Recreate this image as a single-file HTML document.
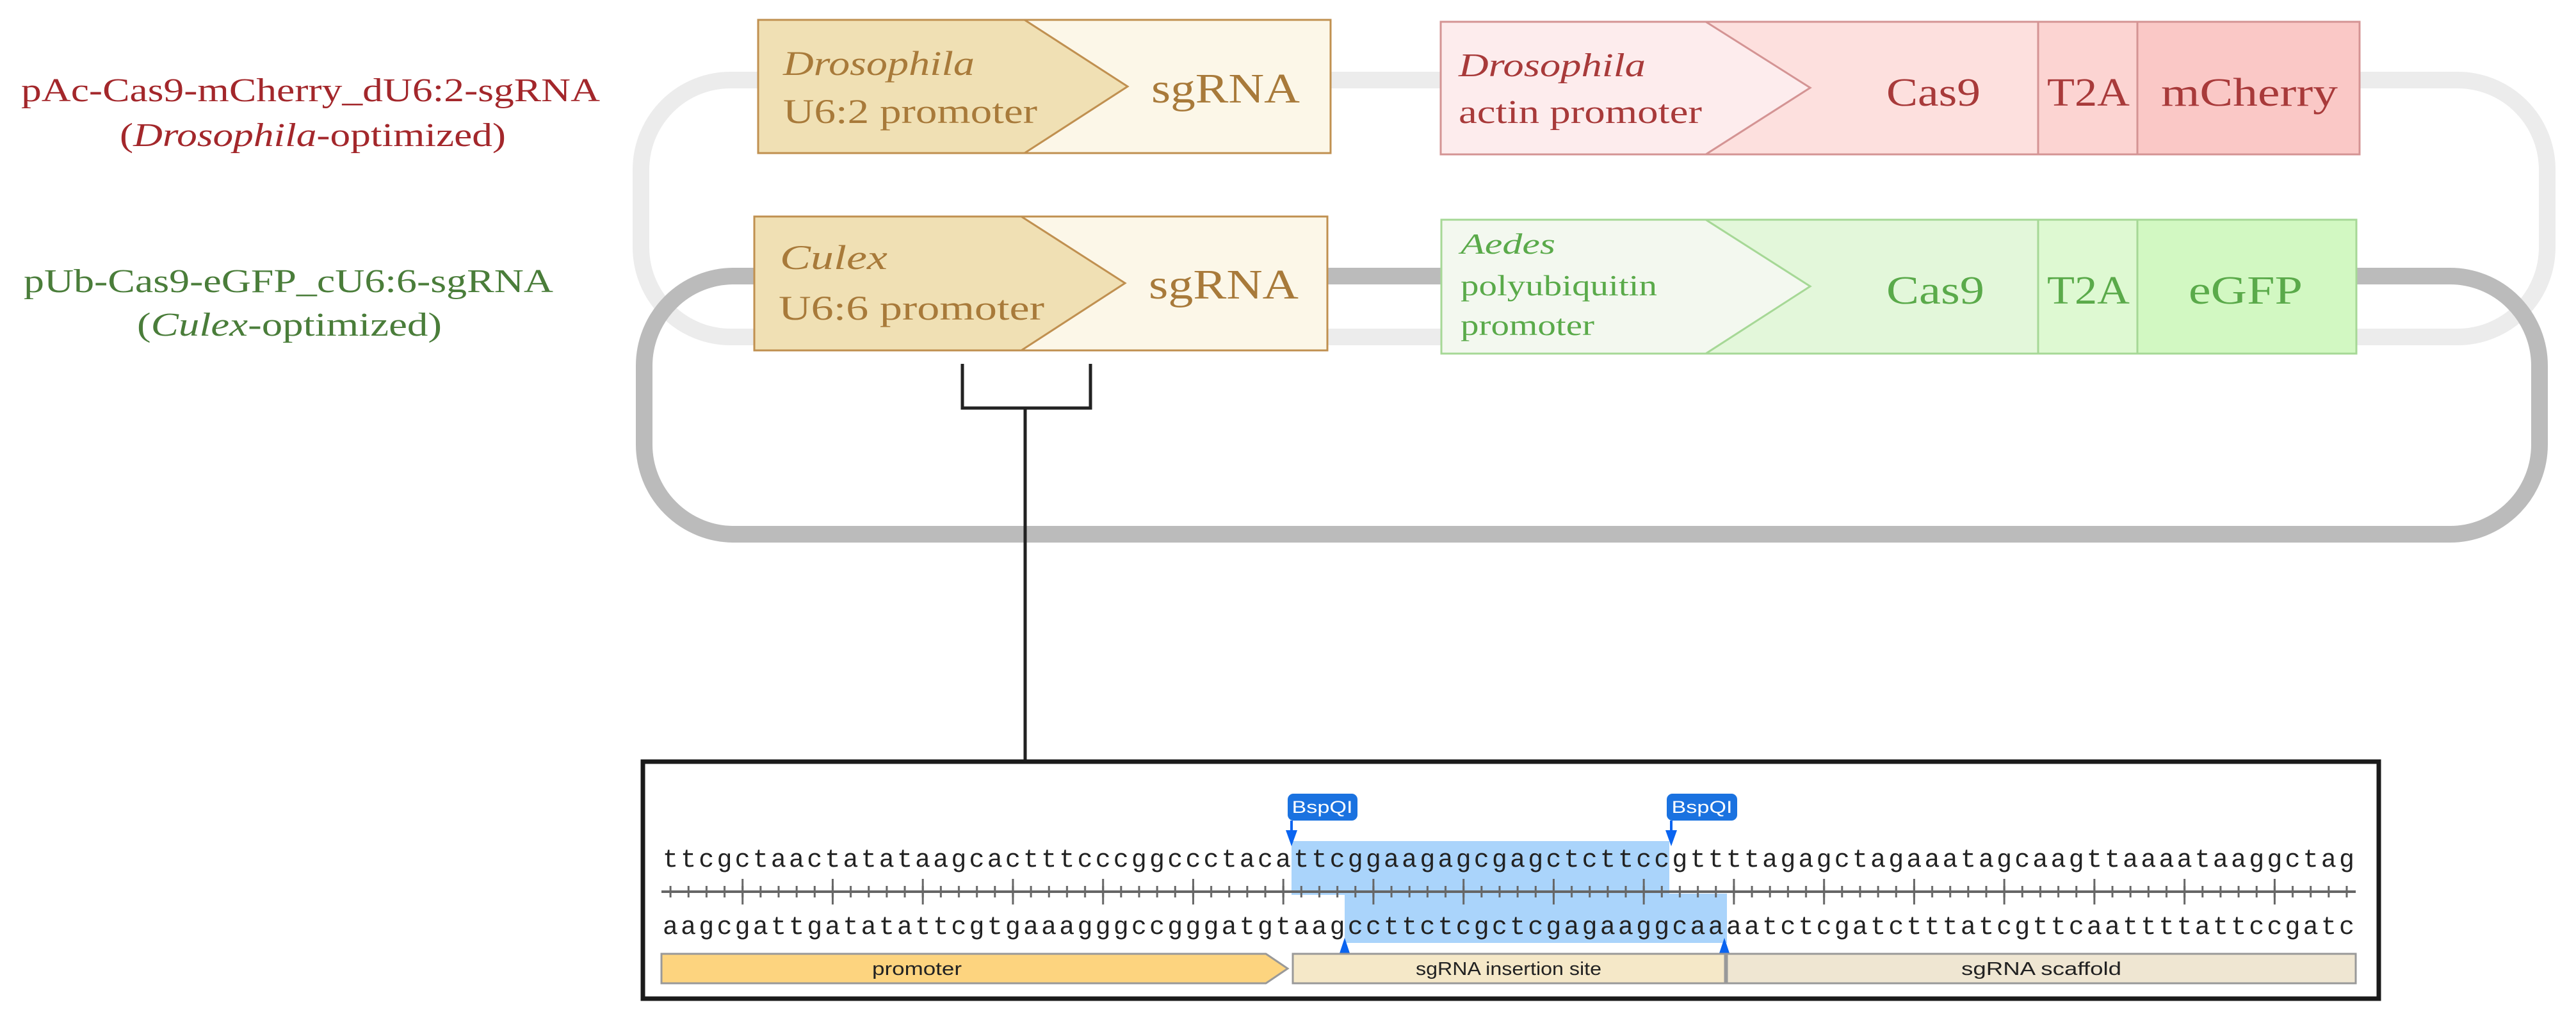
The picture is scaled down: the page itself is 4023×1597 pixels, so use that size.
<!DOCTYPE html>
<html><head><meta charset="utf-8"><style>html,body{margin:0;padding:0;background:#fff}svg{display:block}</style></head>
<body>
<svg width="4023" height="1597" viewBox="0 0 4023 1597" xmlns="http://www.w3.org/2000/svg">
<defs>
<pattern id="ts" patternUnits="userSpaceOnUse" x="1033" y="1383" width="28.149" height="18"><rect x="12.6" y="0" width="3" height="18" fill="#666"/></pattern>
<pattern id="tl" patternUnits="userSpaceOnUse" x="1033" y="1372" width="140.745" height="40"><rect x="125.2" y="0" width="3" height="40" fill="#666"/></pattern>
</defs>
<rect width="4023" height="1597" fill="#fff"/>
<!-- loops -->
<rect x="1001" y="125" width="2977" height="401" rx="140" fill="none" stroke="#ececec" stroke-width="26"/>
<rect x="1006" y="431" width="2960" height="403" rx="140" fill="none" stroke="#bbbbbb" stroke-width="26"/>

<!-- left labels -->
<g font-family="Liberation Serif, serif" font-size="52">
<text x="33" y="158" fill="#a3272b" textLength="904" lengthAdjust="spacingAndGlyphs">pAc-Cas9-mCherry_dU6:2-sgRNA</text>
<text x="187" y="228" fill="#a3272b" textLength="603" lengthAdjust="spacingAndGlyphs">(<tspan font-style="italic">Drosophila</tspan>-optimized)</text>
<text x="37" y="456" fill="#4a7d3a" textLength="827" lengthAdjust="spacingAndGlyphs">pUb-Cas9-eGFP_cU6:6-sgRNA</text>
<text x="214" y="524" fill="#4a7d3a" textLength="476" lengthAdjust="spacingAndGlyphs">(<tspan font-style="italic">Culex</tspan>-optimized)</text>
</g>

<!-- U6:2 box -->
<g font-family="Liberation Serif, serif" fill="#a87a3a">
<rect x="1184" y="31" width="894" height="208" fill="#fcf7e8" stroke="#c09050" stroke-width="3"/>
<polygon points="1184,31 1600,31 1761,135 1600,239 1184,239" fill="#f0e0b4" stroke="#c09050" stroke-width="3"/>
<text x="1223" y="117" font-size="54" font-style="italic" textLength="299" lengthAdjust="spacingAndGlyphs">Drosophila</text>
<text x="1223" y="192" font-size="54" textLength="397" lengthAdjust="spacingAndGlyphs">U6:2 promoter</text>
<text x="1798" y="160" font-size="66" textLength="232" lengthAdjust="spacingAndGlyphs">sgRNA</text>
<!-- U6:6 box -->
<rect x="1178" y="338" width="895" height="209" fill="#fcf7e8" stroke="#c09050" stroke-width="3"/>
<polygon points="1178,338 1595,338 1757,442 1595,547 1178,547" fill="#f0e0b4" stroke="#c09050" stroke-width="3"/>
<text x="1218" y="420" font-size="54" font-style="italic" textLength="168" lengthAdjust="spacingAndGlyphs">Culex</text>
<text x="1216" y="499" font-size="54" textLength="415" lengthAdjust="spacingAndGlyphs">U6:6 promoter</text>
<text x="1794" y="466" font-size="66" textLength="234" lengthAdjust="spacingAndGlyphs">sgRNA</text>
</g>

<!-- actin box -->
<g font-family="Liberation Serif, serif" fill="#a83a3a">
<rect x="2250" y="34" width="1435" height="207" fill="#fde0de" stroke="#d49494" stroke-width="3"/>
<rect x="3183" y="34" width="155" height="207" fill="#fcd4d2" stroke="#d49494" stroke-width="3"/>
<rect x="3338" y="34" width="347" height="207" fill="#fac8c6" stroke="#d49494" stroke-width="3"/>
<polygon points="2250,34 2664,34 2827,137 2664,241 2250,241" fill="#fdeced" stroke="#d49494" stroke-width="3"/>
<text x="2278" y="119" font-size="52" font-style="italic" textLength="292" lengthAdjust="spacingAndGlyphs">Drosophila</text>
<text x="2278" y="192" font-size="52" textLength="380" lengthAdjust="spacingAndGlyphs">actin promoter</text>
<text x="2946" y="165" font-size="62" textLength="147" lengthAdjust="spacingAndGlyphs">Cas9</text>
<text x="3197" y="165" font-size="62" textLength="129" lengthAdjust="spacingAndGlyphs">T2A</text>
<text x="3375" y="165" font-size="62" textLength="276" lengthAdjust="spacingAndGlyphs">mCherry</text>
</g>

<!-- polyubiquitin box -->
<g font-family="Liberation Serif, serif" fill="#5aaa4a">
<rect x="2251" y="343" width="1429" height="209" fill="#e3f7da" stroke="#a6d896" stroke-width="3"/>
<rect x="3183" y="343" width="155" height="209" fill="#def9d2" stroke="#a6d896" stroke-width="3"/>
<rect x="3338" y="343" width="342" height="209" fill="#d2f8c2" stroke="#a6d896" stroke-width="3"/>
<polygon points="2251,343 2664,343 2827,447 2664,552 2251,552" fill="#f3f8ef" stroke="#a6d896" stroke-width="3"/>
<text x="2281" y="396" font-size="46" font-style="italic" textLength="148" lengthAdjust="spacingAndGlyphs">Aedes</text>
<text x="2281" y="461" font-size="46" textLength="307" lengthAdjust="spacingAndGlyphs">polyubiquitin</text>
<text x="2281" y="523" font-size="46" textLength="209" lengthAdjust="spacingAndGlyphs">promoter</text>
<text x="2946" y="474" font-size="62" textLength="153" lengthAdjust="spacingAndGlyphs">Cas9</text>
<text x="3197" y="474" font-size="62" textLength="129" lengthAdjust="spacingAndGlyphs">T2A</text>
<text x="3418" y="474" font-size="62" textLength="178" lengthAdjust="spacingAndGlyphs">eGFP</text>
</g>

<!-- bracket -->
<path d="M1503,568 V637 H1703 V568 M1601,637 V1188" fill="none" stroke="#222" stroke-width="5"/>

<!-- sequence box -->
<rect x="1004" y="1189" width="2711" height="370" fill="#fff" stroke="#1a1a1a" stroke-width="7"/>
<rect x="2017" y="1313" width="590" height="84" fill="#aad4fb"/>
<rect x="2100" y="1395" width="597" height="77" fill="#aad4fb"/>

<g font-family="Liberation Mono, monospace" font-size="40" fill="#222">
<text x="1035" y="1353" textLength="2642" lengthAdjust="spacing">ttcgctaactatataagcactttcccggccctacattcggaagagcgagctcttccgttttagagctagaaatagcaagttaaaataaggctag</text>
<text x="1035" y="1458" textLength="2642" lengthAdjust="spacing">aagcgattgatatattcgtgaaagggccgggatgtaagccttctcgctcgagaaggcaaaatctcgatctttatcgttcaattttattccgatc</text>
</g>

<!-- ruler -->
<line x1="1033" y1="1392" x2="3679" y2="1392" stroke="#666" stroke-width="4"/>
<rect x="1033" y="1383" width="2646" height="18" fill="url(#ts)"/>
<rect x="1033" y="1372" width="2646" height="40" fill="url(#tl)"/>

<!-- BspQI -->
<g font-family="Liberation Sans, sans-serif" font-size="27" fill="#fff">
<rect x="2011" y="1239" width="109" height="42" rx="9" fill="#1a72e0"/>
<text x="2065" y="1269" text-anchor="middle" textLength="95" lengthAdjust="spacingAndGlyphs">BspQI</text>
<line x1="2017" y1="1281" x2="2017" y2="1298" stroke="#0a64f0" stroke-width="4"/>
<polygon points="2008,1296 2026,1296 2017,1321" fill="#0a64f0"/>
<rect x="2603" y="1239" width="110" height="42" rx="9" fill="#1a72e0"/>
<text x="2658" y="1269" text-anchor="middle" textLength="95" lengthAdjust="spacingAndGlyphs">BspQI</text>
<line x1="2610" y1="1281" x2="2610" y2="1298" stroke="#0a64f0" stroke-width="4"/>
<polygon points="2601,1296 2619,1296 2610,1321" fill="#0a64f0"/>
<polygon points="2091,1491 2109,1491 2100,1464" fill="#0a64f0"/>
<polygon points="2684,1491 2702,1491 2693,1464" fill="#0a64f0"/>
</g>

<!-- features -->
<g font-family="Liberation Sans, sans-serif" font-size="29" fill="#222" text-anchor="middle">
<polygon points="1033,1489 1977,1489 2011,1512 1977,1535 1033,1535" fill="#fdd47f" stroke="#999" stroke-width="3"/>
<text x="1432" y="1522" textLength="140" lengthAdjust="spacingAndGlyphs">promoter</text>
<rect x="2019" y="1489" width="675" height="46" fill="#f5e8c8" stroke="#999" stroke-width="3"/>
<text x="2356" y="1522" textLength="290" lengthAdjust="spacingAndGlyphs">sgRNA insertion site</text>
<rect x="2697" y="1489" width="982" height="46" fill="#efe6d2" stroke="#999" stroke-width="3"/>
<text x="3188" y="1522" textLength="250" lengthAdjust="spacingAndGlyphs">sgRNA scaffold</text>
</g>
</svg>
</body></html>
